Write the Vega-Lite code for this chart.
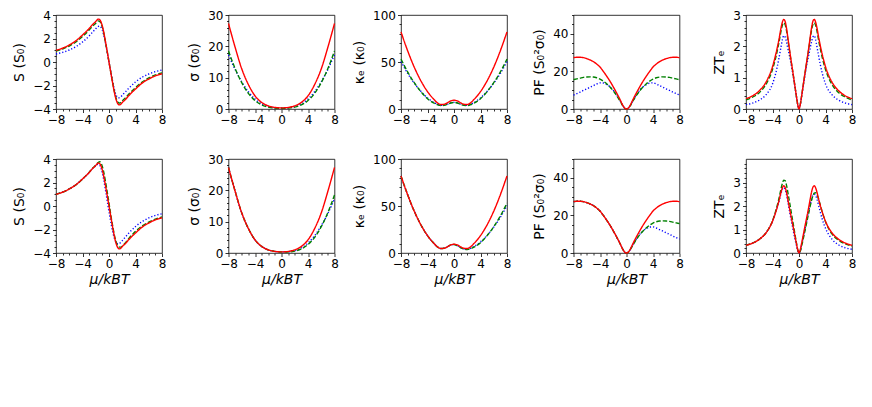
{
  "$schema": "https://vega.github.io/schema/vega-lite/v6.json",
  "background": "white",
  "padding": {"left": 12, "top": 8, "right": 5, "bottom": 5},
  "config": {
    "view": {"stroke": "black", "strokeWidth": 0.8},
    "axis": {
      "grid": false, "domain": false, "tickColor": "black", "tickWidth": 0.8, "tickSize": 3.5,
      "labelFont": "DejaVu Sans", "labelFontSize": 12, "labelColor": "black", "labelPadding": 2,
      "labelOverlap": false, "labelFlush": false,
      "titleFont": "DejaVu Sans", "titleFontSize": 14, "titleFontWeight": "normal", "titleColor": "black"
    },
    "axisY": {"titlePadding": 6},
    "axisX": {"titlePadding": 3, "labelPadding": 2},
    "line": {"interpolate": "monotone", "strokeWidth": 1.4, "clip": true},
    "point": {"opacity": 0}
  },
  "datasets": {
    "S1": [
      {"x": -8, "r": 1.0, "g": 0.93, "b": 0.68}, {"x": -7, "r": 1.18, "g": 1.1, "b": 0.82},
      {"x": -6, "r": 1.45, "g": 1.36, "b": 1.02}, {"x": -5, "r": 1.8, "g": 1.7, "b": 1.3},
      {"x": -4, "r": 2.3, "g": 2.18, "b": 1.7}, {"x": -3, "r": 2.85, "g": 2.72, "b": 2.22},
      {"x": -2.5, "r": 3.18, "g": 3.04, "b": 2.53}, {"x": -2, "r": 3.45, "g": 3.3, "b": 2.83},
      {"x": -1.8, "r": 3.58, "g": 3.42, "b": 2.95}, {"x": -1.6, "r": 3.65, "g": 3.5, "b": 3.03},
      {"x": -1.4, "r": 3.6, "g": 3.46, "b": 3.05}, {"x": -1.2, "r": 3.4, "g": 3.28, "b": 2.95},
      {"x": -1, "r": 3.05, "g": 2.95, "b": 2.72}, {"x": -0.8, "r": 2.55, "g": 2.47, "b": 2.3},
      {"x": -0.6, "r": 1.95, "g": 1.9, "b": 1.8}, {"x": -0.4, "r": 1.32, "g": 1.28, "b": 1.22},
      {"x": -0.2, "r": 0.66, "g": 0.64, "b": 0.62}, {"x": 0, "r": 0, "g": 0, "b": 0},
      {"x": 0.2, "r": -0.66, "g": -0.64, "b": -0.62}, {"x": 0.4, "r": -1.32, "g": -1.28, "b": -1.22},
      {"x": 0.6, "r": -1.95, "g": -1.9, "b": -1.8}, {"x": 0.8, "r": -2.55, "g": -2.47, "b": -2.3},
      {"x": 1, "r": -3.05, "g": -2.95, "b": -2.72}, {"x": 1.2, "r": -3.4, "g": -3.28, "b": -2.95},
      {"x": 1.4, "r": -3.6, "g": -3.46, "b": -3.05}, {"x": 1.6, "r": -3.65, "g": -3.5, "b": -3.03},
      {"x": 1.8, "r": -3.58, "g": -3.42, "b": -2.95}, {"x": 2, "r": -3.45, "g": -3.3, "b": -2.83},
      {"x": 2.5, "r": -3.18, "g": -3.04, "b": -2.53}, {"x": 3, "r": -2.85, "g": -2.72, "b": -2.22},
      {"x": 4, "r": -2.3, "g": -2.18, "b": -1.7}, {"x": 5, "r": -1.8, "g": -1.7, "b": -1.3},
      {"x": 6, "r": -1.45, "g": -1.36, "b": -1.02}, {"x": 7, "r": -1.18, "g": -1.1, "b": -0.82},
      {"x": 8, "r": -1.0, "g": -0.93, "b": -0.68}
    ],
    "S2": [
      {"x": -8, "r": 1.0, "g": 1.0, "b": 1.0}, {"x": -7, "r": 1.18, "g": 1.18, "b": 1.18},
      {"x": -6, "r": 1.45, "g": 1.45, "b": 1.45}, {"x": -5, "r": 1.8, "g": 1.8, "b": 1.8},
      {"x": -4, "r": 2.3, "g": 2.3, "b": 2.3}, {"x": -3, "r": 2.85, "g": 2.86, "b": 2.85},
      {"x": -2.5, "r": 3.18, "g": 3.2, "b": 3.18}, {"x": -2, "r": 3.45, "g": 3.48, "b": 3.42},
      {"x": -1.8, "r": 3.58, "g": 3.62, "b": 3.52}, {"x": -1.6, "r": 3.65, "g": 3.72, "b": 3.55},
      {"x": -1.4, "r": 3.6, "g": 3.76, "b": 3.45}, {"x": -1.2, "r": 3.4, "g": 3.65, "b": 3.2},
      {"x": -1, "r": 3.05, "g": 3.35, "b": 2.8}, {"x": -0.8, "r": 2.55, "g": 2.9, "b": 2.25},
      {"x": -0.6, "r": 1.95, "g": 2.3, "b": 1.6}, {"x": -0.4, "r": 1.32, "g": 1.65, "b": 0.9},
      {"x": -0.2, "r": 0.66, "g": 0.95, "b": 0.2}, {"x": 0, "r": 0, "g": 0.25, "b": -0.5},
      {"x": 0.2, "r": -0.66, "g": -0.5, "b": -1.15}, {"x": 0.4, "r": -1.32, "g": -1.2, "b": -1.75},
      {"x": 0.6, "r": -1.95, "g": -1.85, "b": -2.3}, {"x": 0.8, "r": -2.55, "g": -2.45, "b": -2.72},
      {"x": 1, "r": -3.05, "g": -2.9, "b": -3.0}, {"x": 1.2, "r": -3.4, "g": -3.25, "b": -3.18},
      {"x": 1.4, "r": -3.6, "g": -3.42, "b": -3.22}, {"x": 1.6, "r": -3.65, "g": -3.5, "b": -3.18},
      {"x": 1.8, "r": -3.58, "g": -3.5, "b": -3.08}, {"x": 2, "r": -3.45, "g": -3.42, "b": -2.95},
      {"x": 2.5, "r": -3.18, "g": -3.12, "b": -2.62}, {"x": 3, "r": -2.85, "g": -2.76, "b": -2.3},
      {"x": 4, "r": -2.3, "g": -2.16, "b": -1.75}, {"x": 5, "r": -1.8, "g": -1.7, "b": -1.33},
      {"x": 6, "r": -1.45, "g": -1.37, "b": -1.02}, {"x": 7, "r": -1.18, "g": -1.12, "b": -0.8},
      {"x": 8, "r": -1.0, "g": -0.93, "b": -0.66}
    ],
    "Sig1": [
      {"x": -8, "r": 27.3, "g": 18.5, "b": 17.3}, {"x": -7, "r": 19.7, "g": 12.9, "b": 12.6},
      {"x": -6, "r": 12.8, "g": 8.4, "b": 8.7}, {"x": -5, "r": 7.8, "g": 5.0, "b": 5.5},
      {"x": -4, "r": 4.2, "g": 2.7, "b": 3.2}, {"x": -3, "r": 2.1, "g": 1.3, "b": 1.6},
      {"x": -2, "r": 1.0, "g": 0.6, "b": 0.75}, {"x": -1, "r": 0.5, "g": 0.3, "b": 0.38},
      {"x": 0, "r": 0.35, "g": 0.22, "b": 0.28}, {"x": 1, "r": 0.5, "g": 0.3, "b": 0.38},
      {"x": 2, "r": 1.0, "g": 0.6, "b": 0.75}, {"x": 3, "r": 2.1, "g": 1.3, "b": 1.6},
      {"x": 4, "r": 4.2, "g": 2.7, "b": 3.2}, {"x": 5, "r": 7.8, "g": 5.0, "b": 5.5},
      {"x": 6, "r": 12.8, "g": 8.4, "b": 8.7}, {"x": 7, "r": 19.7, "g": 12.9, "b": 12.6},
      {"x": 8, "r": 27.3, "g": 18.5, "b": 17.3}
    ],
    "Sig2": [
      {"x": -8, "r": 27.3, "g": 27.3, "b": 27.3}, {"x": -7, "r": 19.7, "g": 19.7, "b": 19.7},
      {"x": -6, "r": 12.8, "g": 12.8, "b": 12.8}, {"x": -5, "r": 7.8, "g": 7.8, "b": 7.8},
      {"x": -4, "r": 4.2, "g": 4.2, "b": 4.2}, {"x": -3, "r": 2.1, "g": 2.1, "b": 2.1},
      {"x": -2, "r": 1.0, "g": 1.0, "b": 1.0}, {"x": -1, "r": 0.5, "g": 0.5, "b": 0.5},
      {"x": 0, "r": 0.35, "g": 0.3, "b": 0.32}, {"x": 1, "r": 0.5, "g": 0.32, "b": 0.4},
      {"x": 2, "r": 1.0, "g": 0.6, "b": 0.75}, {"x": 3, "r": 2.1, "g": 1.3, "b": 1.6},
      {"x": 4, "r": 4.2, "g": 2.7, "b": 3.2}, {"x": 5, "r": 7.8, "g": 5.0, "b": 5.5},
      {"x": 6, "r": 12.8, "g": 8.4, "b": 8.7}, {"x": 7, "r": 19.7, "g": 12.9, "b": 12.6},
      {"x": 8, "r": 27.3, "g": 18.5, "b": 17.3}
    ],
    "K1": [
      {"x": -8, "r": 82, "g": 53, "b": 50.5}, {"x": -7, "r": 62, "g": 39.5, "b": 38},
      {"x": -6, "r": 44.5, "g": 28, "b": 27.5}, {"x": -5, "r": 30, "g": 18.5, "b": 18.8},
      {"x": -4, "r": 18.5, "g": 11, "b": 11.8}, {"x": -3, "r": 10, "g": 6.2, "b": 6.8},
      {"x": -2.5, "r": 6.5, "g": 4.6, "b": 5.0}, {"x": -2, "r": 4.8, "g": 3.7, "b": 4.0},
      {"x": -1.5, "r": 5.0, "g": 3.9, "b": 4.1}, {"x": -1, "r": 6.6, "g": 5.0, "b": 5.1},
      {"x": -0.5, "r": 8.6, "g": 6.4, "b": 6.5}, {"x": 0, "r": 9.4, "g": 7.0, "b": 7.1},
      {"x": 0.5, "r": 8.6, "g": 6.4, "b": 6.5}, {"x": 1, "r": 6.6, "g": 5.0, "b": 5.1},
      {"x": 1.5, "r": 5.0, "g": 3.9, "b": 4.1}, {"x": 2, "r": 4.8, "g": 3.7, "b": 4.0},
      {"x": 2.5, "r": 6.5, "g": 4.6, "b": 5.0}, {"x": 3, "r": 10, "g": 6.2, "b": 6.8},
      {"x": 4, "r": 18.5, "g": 11, "b": 11.8}, {"x": 5, "r": 30, "g": 18.5, "b": 18.8},
      {"x": 6, "r": 44.5, "g": 28, "b": 27.5}, {"x": 7, "r": 62, "g": 39.5, "b": 38},
      {"x": 8, "r": 82, "g": 53, "b": 50.5}
    ],
    "K2": [
      {"x": -8, "r": 82, "g": 82, "b": 82}, {"x": -7, "r": 62, "g": 62, "b": 62},
      {"x": -6, "r": 44.5, "g": 44.5, "b": 44.5}, {"x": -5, "r": 30, "g": 30, "b": 30},
      {"x": -4, "r": 18.5, "g": 18.5, "b": 18.5}, {"x": -3, "r": 10, "g": 10, "b": 10},
      {"x": -2.5, "r": 6.5, "g": 6.5, "b": 6.5}, {"x": -2, "r": 4.8, "g": 4.8, "b": 4.8},
      {"x": -1.5, "r": 5.0, "g": 5.0, "b": 5.0}, {"x": -1, "r": 6.6, "g": 6.6, "b": 6.6},
      {"x": -0.5, "r": 8.6, "g": 8.6, "b": 8.6}, {"x": 0, "r": 9.4, "g": 9.0, "b": 9.0},
      {"x": 0.5, "r": 8.6, "g": 7.8, "b": 7.9}, {"x": 1, "r": 6.6, "g": 5.6, "b": 5.7},
      {"x": 1.5, "r": 5.0, "g": 4.1, "b": 4.3}, {"x": 2, "r": 4.8, "g": 3.7, "b": 4.0},
      {"x": 2.5, "r": 6.5, "g": 4.6, "b": 5.0}, {"x": 3, "r": 10, "g": 6.2, "b": 6.8},
      {"x": 4, "r": 18.5, "g": 11, "b": 11.8}, {"x": 5, "r": 30, "g": 18.5, "b": 18.8},
      {"x": 6, "r": 44.5, "g": 28, "b": 27.5}, {"x": 7, "r": 62, "g": 39.5, "b": 38},
      {"x": 8, "r": 82, "g": 53, "b": 50.5}
    ],
    "P1": [
      {"x": -8, "r": 27.3, "g": 15.6, "b": 7.4}, {"x": -7.5, "r": 27.5, "g": 16.0, "b": 8.2},
      {"x": -7, "r": 27.5, "g": 16.4, "b": 9.0}, {"x": -6.5, "r": 27.3, "g": 16.8, "b": 9.9},
      {"x": -6, "r": 26.8, "g": 17.0, "b": 10.7}, {"x": -5.5, "r": 26.1, "g": 17.1, "b": 11.6},
      {"x": -5, "r": 25.2, "g": 17.0, "b": 12.4}, {"x": -4.5, "r": 23.9, "g": 16.6, "b": 13.3},
      {"x": -4, "r": 22.3, "g": 15.9, "b": 13.9}, {"x": -3.5, "r": 20.0, "g": 14.8, "b": 13.8},
      {"x": -3, "r": 17.5, "g": 13.4, "b": 13.0}, {"x": -2.5, "r": 14.8, "g": 11.7, "b": 11.8},
      {"x": -2, "r": 11.8, "g": 9.7, "b": 10.0}, {"x": -1.5, "r": 8.6, "g": 7.2, "b": 7.5},
      {"x": -1, "r": 5.2, "g": 4.4, "b": 4.6}, {"x": -0.5, "r": 1.6, "g": 1.4, "b": 1.45},
      {"x": -0.25, "r": 0.4, "g": 0.35, "b": 0.36}, {"x": 0, "r": 0, "g": 0, "b": 0},
      {"x": 0.25, "r": 0.4, "g": 0.35, "b": 0.36}, {"x": 0.5, "r": 1.6, "g": 1.4, "b": 1.45},
      {"x": 1, "r": 5.2, "g": 4.4, "b": 4.6}, {"x": 1.5, "r": 8.6, "g": 7.2, "b": 7.5},
      {"x": 2, "r": 11.8, "g": 9.7, "b": 10.0}, {"x": 2.5, "r": 14.8, "g": 11.7, "b": 11.8},
      {"x": 3, "r": 17.5, "g": 13.4, "b": 13.0}, {"x": 3.5, "r": 20.0, "g": 14.8, "b": 13.8},
      {"x": 4, "r": 22.3, "g": 15.9, "b": 13.9}, {"x": 4.5, "r": 23.9, "g": 16.6, "b": 13.3},
      {"x": 5, "r": 25.2, "g": 17.0, "b": 12.4}, {"x": 5.5, "r": 26.1, "g": 17.1, "b": 11.6},
      {"x": 6, "r": 26.8, "g": 17.0, "b": 10.7}, {"x": 6.5, "r": 27.3, "g": 16.8, "b": 9.9},
      {"x": 7, "r": 27.5, "g": 16.4, "b": 9.0}, {"x": 7.5, "r": 27.5, "g": 16.0, "b": 8.2},
      {"x": 8, "r": 27.3, "g": 15.6, "b": 7.4}
    ],
    "P2": [
      {"x": -8, "r": 27.3, "g": 27.3, "b": 27.3}, {"x": -7.5, "r": 27.5, "g": 27.5, "b": 27.5},
      {"x": -7, "r": 27.5, "g": 27.5, "b": 27.5}, {"x": -6.5, "r": 27.3, "g": 27.3, "b": 27.3},
      {"x": -6, "r": 26.8, "g": 26.8, "b": 26.8}, {"x": -5.5, "r": 26.1, "g": 26.1, "b": 26.1},
      {"x": -5, "r": 25.2, "g": 25.2, "b": 25.2}, {"x": -4.5, "r": 23.9, "g": 23.9, "b": 23.9},
      {"x": -4, "r": 22.3, "g": 22.3, "b": 22.3}, {"x": -3.5, "r": 20.0, "g": 20.0, "b": 20.0},
      {"x": -3, "r": 17.5, "g": 17.5, "b": 17.5}, {"x": -2.5, "r": 14.8, "g": 14.8, "b": 14.8},
      {"x": -2, "r": 11.8, "g": 11.8, "b": 11.8}, {"x": -1.5, "r": 8.6, "g": 8.6, "b": 8.6},
      {"x": -1, "r": 5.2, "g": 5.2, "b": 5.2}, {"x": -0.5, "r": 1.6, "g": 1.6, "b": 1.6},
      {"x": -0.25, "r": 0.4, "g": 0.4, "b": 0.4}, {"x": 0, "r": 0, "g": 0, "b": 0},
      {"x": 0.25, "r": 0.4, "g": 0.35, "b": 0.36}, {"x": 0.5, "r": 1.6, "g": 1.4, "b": 1.45},
      {"x": 1, "r": 5.2, "g": 4.4, "b": 4.6}, {"x": 1.5, "r": 8.6, "g": 7.2, "b": 7.5},
      {"x": 2, "r": 11.8, "g": 9.7, "b": 10.0}, {"x": 2.5, "r": 14.8, "g": 11.7, "b": 11.8},
      {"x": 3, "r": 17.5, "g": 13.4, "b": 13.0}, {"x": 3.5, "r": 20.0, "g": 14.8, "b": 13.8},
      {"x": 4, "r": 22.3, "g": 15.9, "b": 13.9}, {"x": 4.5, "r": 23.9, "g": 16.6, "b": 13.3},
      {"x": 5, "r": 25.2, "g": 17.0, "b": 12.4}, {"x": 5.5, "r": 26.1, "g": 17.1, "b": 11.6},
      {"x": 6, "r": 26.8, "g": 17.0, "b": 10.7}, {"x": 6.5, "r": 27.3, "g": 16.8, "b": 9.9},
      {"x": 7, "r": 27.5, "g": 16.4, "b": 9.0}, {"x": 7.5, "r": 27.5, "g": 16.0, "b": 8.2},
      {"x": 8, "r": 27.3, "g": 15.6, "b": 7.4}
    ],
    "Z1": [
      {"x": -8, "r": 0.33, "g": 0.29, "b": 0.14}, {"x": -7, "r": 0.42, "g": 0.38, "b": 0.19},
      {"x": -6, "r": 0.58, "g": 0.52, "b": 0.28}, {"x": -5, "r": 0.85, "g": 0.78, "b": 0.45},
      {"x": -4, "r": 1.35, "g": 1.26, "b": 0.8}, {"x": -3.5, "r": 1.75, "g": 1.65, "b": 1.15},
      {"x": -3, "r": 2.25, "g": 2.15, "b": 1.65}, {"x": -2.7, "r": 2.6, "g": 2.5, "b": 2.0},
      {"x": -2.5, "r": 2.78, "g": 2.68, "b": 2.22}, {"x": -2.3, "r": 2.86, "g": 2.75, "b": 2.34},
      {"x": -2.1, "r": 2.8, "g": 2.7, "b": 2.3}, {"x": -1.9, "r": 2.6, "g": 2.52, "b": 2.15},
      {"x": -1.6, "r": 2.15, "g": 2.1, "b": 1.85}, {"x": -1.3, "r": 1.7, "g": 1.67, "b": 1.55},
      {"x": -1, "r": 1.28, "g": 1.27, "b": 1.2}, {"x": -0.7, "r": 0.85, "g": 0.85, "b": 0.82},
      {"x": -0.4, "r": 0.42, "g": 0.42, "b": 0.41}, {"x": -0.2, "r": 0.15, "g": 0.15, "b": 0.15},
      {"x": 0, "r": 0, "g": 0, "b": 0},
      {"x": 0.2, "r": 0.15, "g": 0.15, "b": 0.15}, {"x": 0.4, "r": 0.42, "g": 0.42, "b": 0.41},
      {"x": 0.7, "r": 0.85, "g": 0.85, "b": 0.82}, {"x": 1, "r": 1.28, "g": 1.27, "b": 1.2},
      {"x": 1.3, "r": 1.7, "g": 1.67, "b": 1.55}, {"x": 1.6, "r": 2.15, "g": 2.1, "b": 1.85},
      {"x": 1.9, "r": 2.6, "g": 2.52, "b": 2.15}, {"x": 2.1, "r": 2.8, "g": 2.7, "b": 2.3},
      {"x": 2.3, "r": 2.86, "g": 2.75, "b": 2.34}, {"x": 2.5, "r": 2.78, "g": 2.68, "b": 2.22},
      {"x": 2.7, "r": 2.6, "g": 2.5, "b": 2.0}, {"x": 3, "r": 2.25, "g": 2.15, "b": 1.65},
      {"x": 3.5, "r": 1.75, "g": 1.65, "b": 1.15}, {"x": 4, "r": 1.35, "g": 1.26, "b": 0.8},
      {"x": 5, "r": 0.85, "g": 0.78, "b": 0.45}, {"x": 6, "r": 0.58, "g": 0.52, "b": 0.28},
      {"x": 7, "r": 0.42, "g": 0.38, "b": 0.19}, {"x": 8, "r": 0.33, "g": 0.29, "b": 0.14}
    ],
    "Z2": [
      {"x": -8, "r": 0.33, "g": 0.33, "b": 0.33}, {"x": -7, "r": 0.42, "g": 0.42, "b": 0.42},
      {"x": -6, "r": 0.58, "g": 0.58, "b": 0.58}, {"x": -5, "r": 0.85, "g": 0.85, "b": 0.85},
      {"x": -4, "r": 1.35, "g": 1.37, "b": 1.35}, {"x": -3.5, "r": 1.75, "g": 1.8, "b": 1.75},
      {"x": -3, "r": 2.25, "g": 2.35, "b": 2.22}, {"x": -2.7, "r": 2.6, "g": 2.75, "b": 2.55},
      {"x": -2.5, "r": 2.78, "g": 2.97, "b": 2.72}, {"x": -2.3, "r": 2.86, "g": 3.1, "b": 2.78},
      {"x": -2.1, "r": 2.8, "g": 3.08, "b": 2.72}, {"x": -1.9, "r": 2.6, "g": 2.9, "b": 2.5},
      {"x": -1.6, "r": 2.15, "g": 2.45, "b": 2.05}, {"x": -1.3, "r": 1.7, "g": 1.95, "b": 1.58},
      {"x": -1, "r": 1.28, "g": 1.45, "b": 1.15}, {"x": -0.7, "r": 0.85, "g": 0.95, "b": 0.72},
      {"x": -0.4, "r": 0.42, "g": 0.45, "b": 0.33}, {"x": -0.2, "r": 0.15, "g": 0.15, "b": 0.1},
      {"x": 0, "r": 0, "g": 0.02, "b": 0},
      {"x": 0.2, "r": 0.15, "g": 0.08, "b": 0.1}, {"x": 0.4, "r": 0.42, "g": 0.3, "b": 0.35},
      {"x": 0.7, "r": 0.85, "g": 0.68, "b": 0.75}, {"x": 1, "r": 1.28, "g": 1.08, "b": 1.15},
      {"x": 1.3, "r": 1.7, "g": 1.48, "b": 1.55}, {"x": 1.6, "r": 2.15, "g": 1.88, "b": 1.95},
      {"x": 1.9, "r": 2.6, "g": 2.25, "b": 2.3}, {"x": 2.1, "r": 2.8, "g": 2.45, "b": 2.45},
      {"x": 2.3, "r": 2.86, "g": 2.55, "b": 2.5}, {"x": 2.5, "r": 2.78, "g": 2.57, "b": 2.45},
      {"x": 2.7, "r": 2.6, "g": 2.5, "b": 2.3}, {"x": 3, "r": 2.25, "g": 2.25, "b": 1.98},
      {"x": 3.5, "r": 1.75, "g": 1.75, "b": 1.45}, {"x": 4, "r": 1.35, "g": 1.33, "b": 1.05},
      {"x": 5, "r": 0.85, "g": 0.8, "b": 0.58}, {"x": 6, "r": 0.58, "g": 0.54, "b": 0.34},
      {"x": 7, "r": 0.42, "g": 0.39, "b": 0.22}, {"x": 8, "r": 0.33, "g": 0.3, "b": 0.16}
    ]
  },
  "spacing": 26,
  "vconcat": [
    {
      "spacing": 66.5,
      "bounds": "flush",
      "hconcat": [
        {
          "width": 106, "height": 94, "data": {"name": "S1"},
          "transform": [{"fold": ["b", "g", "r"], "as": ["s", "y"]}],
          "layer": [
            {
              "mark": "line",
              "encoding": {
                "x": {"field": "x", "type": "quantitative", "scale": {"domain": [-8, 8]}, "axis": {"values": [-8, -4, 0, 4, 8], "title": null}},
                "y": {"field": "y", "type": "quantitative", "scale": {"domain": [-4, 4]}, "axis": {"values": [-4, -2, 0, 2, 4], "title": "S (S₀)"}},
                "color": {"field": "s", "type": "nominal", "scale": {"domain": ["r", "g", "b"], "range": ["#ff0000", "#008000", "#0000ff"]}, "legend": null},
                "strokeDash": {"field": "s", "type": "nominal", "scale": {"domain": ["r", "g", "b"], "range": [[1, 0], [4.5, 2], [1.2, 2]]}, "legend": null}
              }
            },
            {
              "mark": "point",
              "encoding": {
                "x": {"field": "x", "type": "quantitative", "scale": {"domain": [-8, 8]}, "axis": {"orient": "bottom", "values": [-7, -6, -5, -3, -2, -1, 1, 2, 3, 5, 6, 7], "labels": false, "tickSize": 2, "title": null}},
                "y": {"field": "y", "type": "quantitative", "scale": {"domain": [-4, 4]}, "axis": {"orient": "left", "values": [-3.5, -3, -2.5, -1.5, -1, -0.5, 0.5, 1, 1.5, 2.5, 3, 3.5], "labels": false, "tickSize": 2, "title": null}}
              }
            }
          ],
          "resolve": {"axis": {"x": "independent", "y": "independent"}}
        },
        {
          "width": 106, "height": 94, "data": {"name": "Sig1"},
          "transform": [{"fold": ["b", "g", "r"], "as": ["s", "y"]}],
          "layer": [
            {
              "mark": "line",
              "encoding": {
                "x": {"field": "x", "type": "quantitative", "scale": {"domain": [-8, 8]}, "axis": {"values": [-8, -4, 0, 4, 8], "title": null}},
                "y": {"field": "y", "type": "quantitative", "scale": {"domain": [0, 30]}, "axis": {"values": [0, 10, 20, 30], "title": "σ (σ₀)"}},
                "color": {"field": "s", "type": "nominal", "scale": {"domain": ["r", "g", "b"], "range": ["#ff0000", "#008000", "#0000ff"]}, "legend": null},
                "strokeDash": {"field": "s", "type": "nominal", "scale": {"domain": ["r", "g", "b"], "range": [[1, 0], [4.5, 2], [1.2, 2]]}, "legend": null}
              }
            },
            {
              "mark": "point",
              "encoding": {
                "x": {"field": "x", "type": "quantitative", "scale": {"domain": [-8, 8]}, "axis": {"orient": "bottom", "values": [-7, -6, -5, -3, -2, -1, 1, 2, 3, 5, 6, 7], "labels": false, "tickSize": 2, "title": null}},
                "y": {"field": "y", "type": "quantitative", "scale": {"domain": [0, 30]}, "axis": {"orient": "left", "values": [2, 4, 6, 8, 12, 14, 16, 18, 22, 24, 26, 28], "labels": false, "tickSize": 2, "title": null}}
              }
            }
          ],
          "resolve": {"axis": {"x": "independent", "y": "independent"}}
        },
        {
          "width": 106, "height": 94, "data": {"name": "K1"},
          "transform": [{"fold": ["b", "g", "r"], "as": ["s", "y"]}],
          "layer": [
            {
              "mark": "line",
              "encoding": {
                "x": {"field": "x", "type": "quantitative", "scale": {"domain": [-8, 8]}, "axis": {"values": [-8, -4, 0, 4, 8], "title": null}},
                "y": {"field": "y", "type": "quantitative", "scale": {"domain": [0, 100]}, "axis": {"values": [0, 50, 100], "title": "κₑ (κ₀)"}},
                "color": {"field": "s", "type": "nominal", "scale": {"domain": ["r", "g", "b"], "range": ["#ff0000", "#008000", "#0000ff"]}, "legend": null},
                "strokeDash": {"field": "s", "type": "nominal", "scale": {"domain": ["r", "g", "b"], "range": [[1, 0], [4.5, 2], [1.2, 2]]}, "legend": null}
              }
            },
            {
              "mark": "point",
              "encoding": {
                "x": {"field": "x", "type": "quantitative", "scale": {"domain": [-8, 8]}, "axis": {"orient": "bottom", "values": [-7, -6, -5, -3, -2, -1, 1, 2, 3, 5, 6, 7], "labels": false, "tickSize": 2, "title": null}},
                "y": {"field": "y", "type": "quantitative", "scale": {"domain": [0, 100]}, "axis": {"orient": "left", "values": [10, 20, 30, 40, 60, 70, 80, 90], "labels": false, "tickSize": 2, "title": null}}
              }
            }
          ],
          "resolve": {"axis": {"x": "independent", "y": "independent"}}
        },
        {
          "width": 106, "height": 94, "data": {"name": "P1"},
          "transform": [{"fold": ["b", "g", "r"], "as": ["s", "y"]}],
          "layer": [
            {
              "mark": "line",
              "encoding": {
                "x": {"field": "x", "type": "quantitative", "scale": {"domain": [-8, 8]}, "axis": {"values": [-8, -4, 0, 4, 8], "title": null}},
                "y": {"field": "y", "type": "quantitative", "scale": {"domain": [0, 50]}, "axis": {"values": [0, 20, 40], "title": "PF (S₀²σ₀)"}},
                "color": {"field": "s", "type": "nominal", "scale": {"domain": ["r", "g", "b"], "range": ["#ff0000", "#008000", "#0000ff"]}, "legend": null},
                "strokeDash": {"field": "s", "type": "nominal", "scale": {"domain": ["r", "g", "b"], "range": [[1, 0], [4.5, 2], [1.2, 2]]}, "legend": null}
              }
            },
            {
              "mark": "point",
              "encoding": {
                "x": {"field": "x", "type": "quantitative", "scale": {"domain": [-8, 8]}, "axis": {"orient": "bottom", "values": [-7, -6, -5, -3, -2, -1, 1, 2, 3, 5, 6, 7], "labels": false, "tickSize": 2, "title": null}},
                "y": {"field": "y", "type": "quantitative", "scale": {"domain": [0, 50]}, "axis": {"orient": "left", "values": [5, 10, 15, 25, 30, 35, 45, 50], "labels": false, "tickSize": 2, "title": null}}
              }
            }
          ],
          "resolve": {"axis": {"x": "independent", "y": "independent"}}
        },
        {
          "width": 106, "height": 94, "data": {"name": "Z1"},
          "transform": [{"fold": ["b", "g", "r"], "as": ["s", "y"]}],
          "layer": [
            {
              "mark": "line",
              "encoding": {
                "x": {"field": "x", "type": "quantitative", "scale": {"domain": [-8, 8]}, "axis": {"values": [-8, -4, 0, 4, 8], "title": null}},
                "y": {"field": "y", "type": "quantitative", "scale": {"domain": [0, 3]}, "axis": {"values": [0, 1, 2, 3], "title": "ZTₑ"}},
                "color": {"field": "s", "type": "nominal", "scale": {"domain": ["r", "g", "b"], "range": ["#ff0000", "#008000", "#0000ff"]}, "legend": null},
                "strokeDash": {"field": "s", "type": "nominal", "scale": {"domain": ["r", "g", "b"], "range": [[1, 0], [4.5, 2], [1.2, 2]]}, "legend": null}
              }
            },
            {
              "mark": "point",
              "encoding": {
                "x": {"field": "x", "type": "quantitative", "scale": {"domain": [-8, 8]}, "axis": {"orient": "bottom", "values": [-7, -6, -5, -3, -2, -1, 1, 2, 3, 5, 6, 7], "labels": false, "tickSize": 2, "title": null}},
                "y": {"field": "y", "type": "quantitative", "scale": {"domain": [0, 3]}, "axis": {"orient": "left", "values": [0.2, 0.4, 0.6, 0.8, 1.2, 1.4, 1.6, 1.8, 2.2, 2.4, 2.6, 2.8], "labels": false, "tickSize": 2, "title": null}}
              }
            }
          ],
          "resolve": {"axis": {"x": "independent", "y": "independent"}}
        }
      ]
    },
    {
      "spacing": 66.5,
      "bounds": "flush",
      "hconcat": [
        {
          "width": 106, "height": 94, "data": {"name": "S2"},
          "transform": [{"fold": ["b", "g", "r"], "as": ["s", "y"]}],
          "layer": [
            {
              "mark": "line",
              "encoding": {
                "x": {"field": "x", "type": "quantitative", "scale": {"domain": [-8, 8]}, "axis": {"values": [-8, -4, 0, 4, 8], "title": "μ/kBT", "titleFontStyle": "italic"}},
                "y": {"field": "y", "type": "quantitative", "scale": {"domain": [-4, 4]}, "axis": {"values": [-4, -2, 0, 2, 4], "title": "S (S₀)"}},
                "color": {"field": "s", "type": "nominal", "scale": {"domain": ["r", "g", "b"], "range": ["#ff0000", "#008000", "#0000ff"]}, "legend": null},
                "strokeDash": {"field": "s", "type": "nominal", "scale": {"domain": ["r", "g", "b"], "range": [[1, 0], [4.5, 2], [1.2, 2]]}, "legend": null}
              }
            },
            {
              "mark": "point",
              "encoding": {
                "x": {"field": "x", "type": "quantitative", "scale": {"domain": [-8, 8]}, "axis": {"orient": "bottom", "values": [-7, -6, -5, -3, -2, -1, 1, 2, 3, 5, 6, 7], "labels": false, "tickSize": 2, "title": null}},
                "y": {"field": "y", "type": "quantitative", "scale": {"domain": [-4, 4]}, "axis": {"orient": "left", "values": [-3.5, -3, -2.5, -1.5, -1, -0.5, 0.5, 1, 1.5, 2.5, 3, 3.5], "labels": false, "tickSize": 2, "title": null}}
              }
            }
          ],
          "resolve": {"axis": {"x": "independent", "y": "independent"}}
        },
        {
          "width": 106, "height": 94, "data": {"name": "Sig2"},
          "transform": [{"fold": ["b", "g", "r"], "as": ["s", "y"]}],
          "layer": [
            {
              "mark": "line",
              "encoding": {
                "x": {"field": "x", "type": "quantitative", "scale": {"domain": [-8, 8]}, "axis": {"values": [-8, -4, 0, 4, 8], "title": "μ/kBT", "titleFontStyle": "italic"}},
                "y": {"field": "y", "type": "quantitative", "scale": {"domain": [0, 30]}, "axis": {"values": [0, 10, 20, 30], "title": "σ (σ₀)"}},
                "color": {"field": "s", "type": "nominal", "scale": {"domain": ["r", "g", "b"], "range": ["#ff0000", "#008000", "#0000ff"]}, "legend": null},
                "strokeDash": {"field": "s", "type": "nominal", "scale": {"domain": ["r", "g", "b"], "range": [[1, 0], [4.5, 2], [1.2, 2]]}, "legend": null}
              }
            },
            {
              "mark": "point",
              "encoding": {
                "x": {"field": "x", "type": "quantitative", "scale": {"domain": [-8, 8]}, "axis": {"orient": "bottom", "values": [-7, -6, -5, -3, -2, -1, 1, 2, 3, 5, 6, 7], "labels": false, "tickSize": 2, "title": null}},
                "y": {"field": "y", "type": "quantitative", "scale": {"domain": [0, 30]}, "axis": {"orient": "left", "values": [2, 4, 6, 8, 12, 14, 16, 18, 22, 24, 26, 28], "labels": false, "tickSize": 2, "title": null}}
              }
            }
          ],
          "resolve": {"axis": {"x": "independent", "y": "independent"}}
        },
        {
          "width": 106, "height": 94, "data": {"name": "K2"},
          "transform": [{"fold": ["b", "g", "r"], "as": ["s", "y"]}],
          "layer": [
            {
              "mark": "line",
              "encoding": {
                "x": {"field": "x", "type": "quantitative", "scale": {"domain": [-8, 8]}, "axis": {"values": [-8, -4, 0, 4, 8], "title": "μ/kBT", "titleFontStyle": "italic"}},
                "y": {"field": "y", "type": "quantitative", "scale": {"domain": [0, 100]}, "axis": {"values": [0, 50, 100], "title": "κₑ (κ₀)"}},
                "color": {"field": "s", "type": "nominal", "scale": {"domain": ["r", "g", "b"], "range": ["#ff0000", "#008000", "#0000ff"]}, "legend": null},
                "strokeDash": {"field": "s", "type": "nominal", "scale": {"domain": ["r", "g", "b"], "range": [[1, 0], [4.5, 2], [1.2, 2]]}, "legend": null}
              }
            },
            {
              "mark": "point",
              "encoding": {
                "x": {"field": "x", "type": "quantitative", "scale": {"domain": [-8, 8]}, "axis": {"orient": "bottom", "values": [-7, -6, -5, -3, -2, -1, 1, 2, 3, 5, 6, 7], "labels": false, "tickSize": 2, "title": null}},
                "y": {"field": "y", "type": "quantitative", "scale": {"domain": [0, 100]}, "axis": {"orient": "left", "values": [10, 20, 30, 40, 60, 70, 80, 90], "labels": false, "tickSize": 2, "title": null}}
              }
            }
          ],
          "resolve": {"axis": {"x": "independent", "y": "independent"}}
        },
        {
          "width": 106, "height": 94, "data": {"name": "P2"},
          "transform": [{"fold": ["b", "g", "r"], "as": ["s", "y"]}],
          "layer": [
            {
              "mark": "line",
              "encoding": {
                "x": {"field": "x", "type": "quantitative", "scale": {"domain": [-8, 8]}, "axis": {"values": [-8, -4, 0, 4, 8], "title": "μ/kBT", "titleFontStyle": "italic"}},
                "y": {"field": "y", "type": "quantitative", "scale": {"domain": [0, 50]}, "axis": {"values": [0, 20, 40], "title": "PF (S₀²σ₀)"}},
                "color": {"field": "s", "type": "nominal", "scale": {"domain": ["r", "g", "b"], "range": ["#ff0000", "#008000", "#0000ff"]}, "legend": null},
                "strokeDash": {"field": "s", "type": "nominal", "scale": {"domain": ["r", "g", "b"], "range": [[1, 0], [4.5, 2], [1.2, 2]]}, "legend": null}
              }
            },
            {
              "mark": "point",
              "encoding": {
                "x": {"field": "x", "type": "quantitative", "scale": {"domain": [-8, 8]}, "axis": {"orient": "bottom", "values": [-7, -6, -5, -3, -2, -1, 1, 2, 3, 5, 6, 7], "labels": false, "tickSize": 2, "title": null}},
                "y": {"field": "y", "type": "quantitative", "scale": {"domain": [0, 50]}, "axis": {"orient": "left", "values": [5, 10, 15, 25, 30, 35, 45, 50], "labels": false, "tickSize": 2, "title": null}}
              }
            }
          ],
          "resolve": {"axis": {"x": "independent", "y": "independent"}}
        },
        {
          "width": 106, "height": 94, "data": {"name": "Z2"},
          "transform": [{"fold": ["b", "g", "r"], "as": ["s", "y"]}],
          "layer": [
            {
              "mark": "line",
              "encoding": {
                "x": {"field": "x", "type": "quantitative", "scale": {"domain": [-8, 8]}, "axis": {"values": [-8, -4, 0, 4, 8], "title": "μ/kBT", "titleFontStyle": "italic"}},
                "y": {"field": "y", "type": "quantitative", "scale": {"domain": [0, 4]}, "axis": {"values": [0, 1, 2, 3], "title": "ZTₑ"}},
                "color": {"field": "s", "type": "nominal", "scale": {"domain": ["r", "g", "b"], "range": ["#ff0000", "#008000", "#0000ff"]}, "legend": null},
                "strokeDash": {"field": "s", "type": "nominal", "scale": {"domain": ["r", "g", "b"], "range": [[1, 0], [4.5, 2], [1.2, 2]]}, "legend": null}
              }
            },
            {
              "mark": "point",
              "encoding": {
                "x": {"field": "x", "type": "quantitative", "scale": {"domain": [-8, 8]}, "axis": {"orient": "bottom", "values": [-7, -6, -5, -3, -2, -1, 1, 2, 3, 5, 6, 7], "labels": false, "tickSize": 2, "title": null}},
                "y": {"field": "y", "type": "quantitative", "scale": {"domain": [0, 4]}, "axis": {"orient": "left", "values": [0.2, 0.4, 0.6, 0.8, 1.2, 1.4, 1.6, 1.8, 2.2, 2.4, 2.6, 2.8, 3.2, 3.4, 3.6, 3.8], "labels": false, "tickSize": 2, "title": null}}
              }
            }
          ],
          "resolve": {"axis": {"x": "independent", "y": "independent"}}
        }
      ]
    }
  ]
}
